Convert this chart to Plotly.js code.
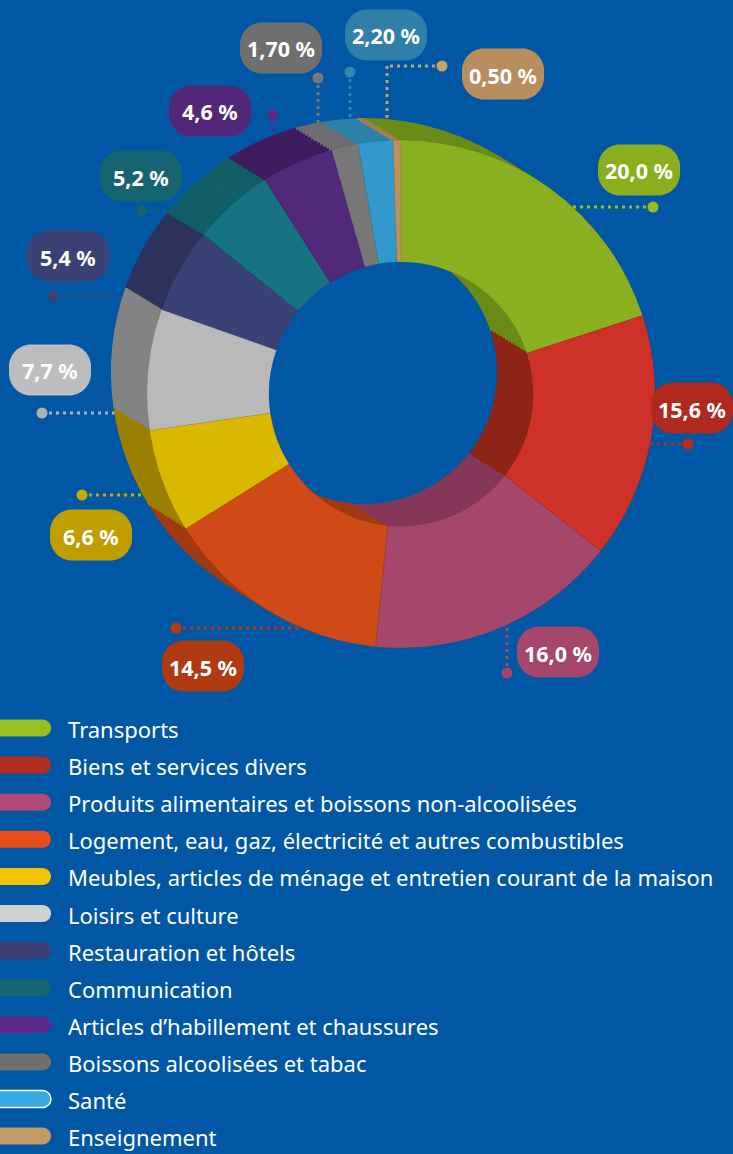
<!DOCTYPE html>
<html>
<head>
<meta charset="utf-8">
<script src="https://cdn.plot.ly/plotly-3.0.1.min.js"></script>
<style>
  html, body { margin: 0; padding: 0; background: #0157A4; }
  #chart { width: 733px; height: 1154px; }
</style>
</head>
<body>
<div id="chart"></div>
<script>
// ---------- DATA ----------
const categories = [
  "Transports",
  "Biens et services divers",
  "Produits alimentaires et boissons non-alcoolisées",
  "Logement, eau, gaz, électricité et autres combustibles",
  "Meubles, articles de ménage et entretien courant de la maison",
  "Loisirs et culture",
  "Restauration et hôtels",
  "Communication",
  "Articles d’habillement et chaussures",
  "Boissons alcoolisées et tabac",
  "Santé",
  "Enseignement"
];
const values = [20.0, 15.6, 16.0, 14.5, 6.6, 7.7, 5.4, 5.2, 4.6, 1.7, 2.2, 0.5];
const valueLabels = ["20,0 %", "15,6 %", "16,0 %", "14,5 %", "6,6 %", "7,7 %",
                     "5,4 %", "5,2 %", "4,6 %", "1,70 %", "2,20 %", "0,50 %"];

// ---------- STYLES ----------
const faceColors   = ["#8AAF1F", "#CD3127", "#A4476B", "#CF4A17", "#DAB800", "#B9B9B9",
                      "#3A4177", "#177382", "#51287A", "#777777", "#3399CC", "#BC9060"];
const sideColors   = ["#6A8C17", "#8E2418", "#843759", "#A23A12", "#9A8000", "#838383",
                      "#2C325A", "#125E66", "#3F1B60", "#6E6E6E", "#2E80A8", "#A67E50"];
const bubbleColors = ["#8BAE1F", "#B0291F", "#A4476B", "#B03A11", "#BE9E00", "#BDBDBD",
                      "#3B4175", "#166470", "#52277A", "#6F6F6F", "#2F7FA8", "#B88E5E"];
const lineColors   = ["#9ABD1F", "#B8291F", "#A4476B", "#B83A11", "#C9A800", "#B0B0B0",
                      "#3B4175", "#166470", "#5B2A86", "#777777", "#2F86B0", "#C8A06A"];
const legendColors = ["#97C11F", "#B22D20", "#B04A78", "#E84E1B", "#F2C500", "#D1D1D1",
                      "#3B3F73", "#17666F", "#5B2A86", "#6F6F6F", "#36A9E1", "#C49A66"];

// ---------- LAYOUT GEOMETRY (pixels) ----------
const W = 733, H = 1154;
const X = px => px / W;
const Y = py => 1 - py / H;

const pieCX = 401, pieCY = 394, pieR = 254, holeFrac = 0.52;
const depthDX = -36, depthDY = -22, depthLayers = 12;

// bubble centres
const bubblePos = [
  [639, 170], [692, 408], [558, 652], [203, 666], [91, 535], [50, 370],
  [68, 256], [141, 176], [210, 111], [281, 48], [386, 35], [503, 74]
];
const bubbleW = 82, bubbleH = 51, bubbleRad = 22;

// leader lines: [dotX, dotY, list of further points]
const leaders = [
  [653, 207, [[560, 207]]],
  [688, 444, [[600, 444]]],
  [507, 673, [[507, 590]]],
  [176, 628, [[300, 628]]],
  [82, 495, [[190, 495]]],
  [42, 413, [[170, 413]]],
  [53, 296, [[180, 296]]],
  [142, 211, [[240, 211]]],
  [273, 115, [[273, 175]]],
  [318, 78, [[318, 160]]],
  [350, 72, [[350, 150]]],
  [442, 66, [[387, 66], [387, 150]]]
];

const legendTop = 728, legendStep = 37.1, swatchW = 51, swatchH = 17;

function dom(cx, cy, r) {
  return { x: [X(cx - r), X(cx + r)], y: [Y(cy + r), Y(cy - r)] };
}

function roundRect(x0, y0, x1, y1, rL, rR) {
  const k = 0.5523;
  let p = `M${X(x0 + rL)},${Y(y0)} L${X(x1 - rR)},${Y(y0)}`;
  if (rR > 0) p += ` C${X(x1 - rR + k * rR)},${Y(y0)} ${X(x1)},${Y(y0 + rR - k * rR)} ${X(x1)},${Y(y0 + rR)}`;
  p += ` L${X(x1)},${Y(y1 - rR)}`;
  if (rR > 0) p += ` C${X(x1)},${Y(y1 - rR + k * rR)} ${X(x1 - rR + k * rR)},${Y(y1)} ${X(x1 - rR)},${Y(y1)}`;
  p += ` L${X(x0 + rL)},${Y(y1)}`;
  if (rL > 0) p += ` C${X(x0 + rL - k * rL)},${Y(y1)} ${X(x0)},${Y(y1 - rL + k * rL)} ${X(x0)},${Y(y1 - rL)}`;
  p += ` L${X(x0)},${Y(y0 + rL)}`;
  if (rL > 0) p += ` C${X(x0)},${Y(y0 + rL - k * rL)} ${X(x0 + rL - k * rL)},${Y(y0)} ${X(x0 + rL)},${Y(y0)}`;
  return p + " Z";
}

// ---------- TRACES ----------
const traces = [];
for (let i = depthLayers; i >= 1; i--) {
  const t = i / depthLayers;
  traces.push({
    type: "pie",
    labels: categories,
    values: values,
    sort: false,
    direction: "clockwise",
    rotation: 0,
    hole: holeFrac,
    textinfo: "none",
    hoverinfo: "skip",
    showlegend: false,
    marker: { colors: sideColors, line: { width: 0 } },
    domain: dom(pieCX + depthDX * t, pieCY + depthDY * t, pieR)
  });
}
traces.push({
  type: "pie",
  labels: categories,
  values: values,
  sort: false,
  direction: "clockwise",
  rotation: 0,
  hole: holeFrac,
  textinfo: "none",
  hoverinfo: "label+percent",
  showlegend: false,
  marker: { colors: faceColors, line: { color: "rgba(0,0,0,0.12)", width: 0.6 } },
  domain: dom(pieCX, pieCY, pieR)
});

// ---------- SHAPES & ANNOTATIONS ----------
const shapes = [];
const annotations = [];

leaders.forEach((ld, i) => {
  let prev = [ld[0], ld[1]];
  ld[2].forEach(pt => {
    shapes.push({
      type: "line", xref: "paper", yref: "paper", layer: "below",
      x0: X(prev[0]), y0: Y(prev[1]), x1: X(pt[0]), y1: Y(pt[1]),
      line: { color: lineColors[i], width: 3, dash: "3px,4px" }
    });
    prev = pt;
  });
  const r = 5.5;
  shapes.push({
    type: "circle", xref: "paper", yref: "paper", layer: "above",
    x0: X(ld[0] - r), x1: X(ld[0] + r), y0: Y(ld[1] + r), y1: Y(ld[1] - r),
    fillcolor: lineColors[i], line: { width: 0 }
  });
});

valueLabels.forEach((lab, i) => {
  const [cx, cy] = bubblePos[i];
  shapes.push({
    type: "path", xref: "paper", yref: "paper", layer: "above",
    path: roundRect(cx - bubbleW / 2, cy - bubbleH / 2, cx + bubbleW / 2, cy + bubbleH / 2, bubbleRad, bubbleRad),
    fillcolor: bubbleColors[i], line: { width: 0 }
  });
  annotations.push({
    xref: "paper", yref: "paper", x: X(cx), y: Y(cy + 1),
    xanchor: "center", yanchor: "middle", showarrow: false,
    text: lab,
    font: { family: "Noto Sans, sans-serif", size: 21.5, color: "#FFFFFF", weight: 700 }
  });
});

categories.forEach((cat, i) => {
  const cy = legendTop + i * legendStep;
  shapes.push({
    type: "path", xref: "paper", yref: "paper", layer: "above",
    path: roundRect(-12, cy - swatchH / 2, swatchW, cy + swatchH / 2, 0, swatchH / 2),
    fillcolor: legendColors[i],
    line: { width: cat === "Santé" ? 1.5 : 0, color: "#FFFFFF" }
  });
  annotations.push({
    xref: "paper", yref: "paper", x: X(66), y: Y(cy + 1),
    xanchor: "left", yanchor: "middle", showarrow: false,
    text: cat,
    font: { family: "Noto Sans, sans-serif", size: 22, color: "#FFFFFF" }
  });
});

const layout = {
  width: W, height: H,
  margin: { l: 0, r: 0, t: 0, b: 0, pad: 0 },
  paper_bgcolor: "#0157A4",
  plot_bgcolor: "#0157A4",
  showlegend: false,
  shapes: shapes,
  annotations: annotations
};

Plotly.newPlot("chart", traces, layout, { displayModeBar: false });
</script>
</body>
</html>
